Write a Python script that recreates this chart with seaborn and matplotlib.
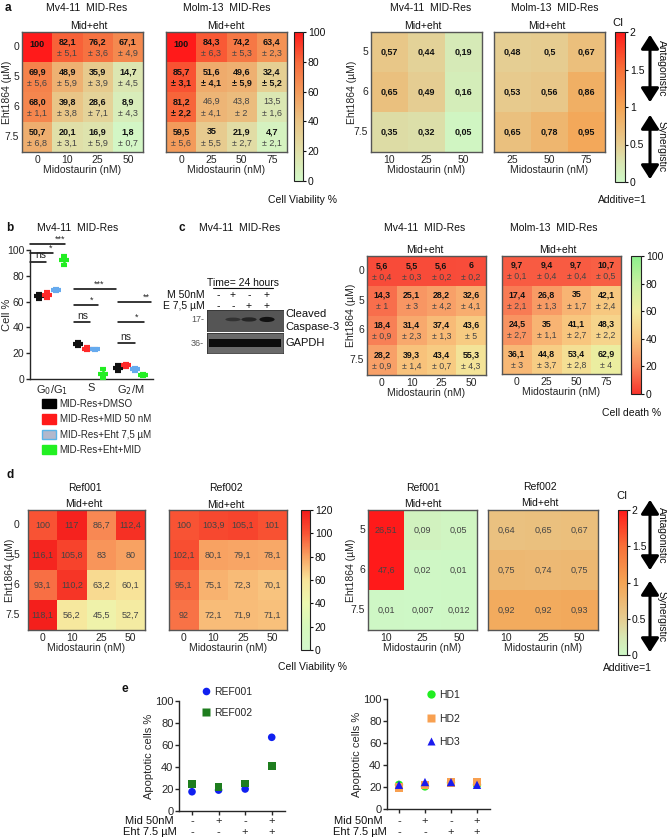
import numpy as np
import pandas as pd
import matplotlib
matplotlib.use("Agg")
import matplotlib.pyplot as plt
import matplotlib.transforms as mtrans
import seaborn as sns
from matplotlib.colors import LinearSegmentedColormap
from matplotlib.patches import Patch, Rectangle, Ellipse, FancyArrowPatch
from matplotlib.lines import Line2D

# ------------------------------------------------------------------ data
eht_rows = ['0', '5', '6', '7.5']
eht_rows_ci = ['5', '6', '7.5']
mid_mv4 = ['0', '10', '25', '50']
mid_molm = ['0', '25', '50', '75']
mid_ci_mv4 = ['10', '25', '50']
mid_ci_molm = ['25', '50', '75']

# panel a : cell viability %
via_mv4 = [["100", "82,1", "76,2", "67,1"],
           ["69,9", "48,9", "35,9", "14,7"],
           ["68,0", "39,8", "28,6", "8,9"],
           ["50,7", "20,1", "16,9", "1,8"]]
via_mv4_sd = [[None, "5,1", "3,6", "4,9"],
              ["5,6", "5,9", "3,9", "4,5"],
              ["1,1", "3,8", "7,1", "4,3"],
              ["6,8", "3,1", "5,9", "0,7"]]
via_molm = [["100", "84,3", "74,2", "63,4"],
            ["85,7", "51,6", "49,6", "32,4"],
            ["81,2", "46,9", "43,8", "13,5"],
            ["59,5", "35", "21,9", "4,7"]]
via_molm_sd = [[None, "6,3", "5,3", "2,3"],
               ["3,1", "4,1", "5,9", "5,2"],
               ["2,2", "4,1", "2", "1,6"],
               ["5,6", "5,5", "2,7", "2,1"]]
# panel a : combination index
ci_mv4 = [["0,57", "0,44", "0,19"],
          ["0,65", "0,49", "0,16"],
          ["0,35", "0,32", "0,05"]]
ci_molm = [["0,48", "0,5", "0,67"],
           ["0,53", "0,56", "0,86"],
           ["0,65", "0,78", "0,95"]]

# panel b : cell cycle
phases = ['G$_0$/G$_1$', 'S', 'G$_2$/M']
treatments = ['MID-Res+DMSO', 'MID-Res+MID 50 nM', 'MID-Res+Eht 7,5 µM', 'MID-Res+Eht+MID']
cc_mean = {'MID-Res+DMSO': [64, 27, 8.5],
           'MID-Res+MID 50 nM': [65, 23.5, 10.5],
           'MID-Res+Eht 7,5 µM': [69, 23, 7.5],
           'MID-Res+Eht+MID': [92, 4, 3]}
cc_err = {'MID-Res+DMSO': [2, 1.5, 2.5],
          'MID-Res+MID 50 nM': [2.5, 1, 1.5],
          'MID-Res+Eht 7,5 µM': [1, 0.5, 1],
          'MID-Res+Eht+MID': [3.5, 3.5, 0.5]}
sig_labels = [['ns', '*', '***'], ['ns', '*', '***'], ['ns', '*', '**']]

# panel c : cell death %
death_mv4 = [["5,6", "5,5", "5,6", "6"],
             ["14,3", "25,1", "28,2", "32,6"],
             ["18,4", "31,4", "37,4", "43,6"],
             ["28,2", "39,3", "43,4", "55,3"]]
death_mv4_sd = [["0,4", "0,3", "0,2", "0,2"],
                ["1", "3", "4,2", "4,1"],
                ["0,9", "2,3", "1,3", "5"],
                ["0,9", "1,4", "0,7", "4,3"]]
death_molm = [["9,7", "9,4", "9,7", "10,7"],
              ["17,4", "26,8", "35", "42,1"],
              ["24,5", "35", "41,1", "48,3"],
              ["36,1", "44,8", "53,4", "62,9"]]
death_molm_sd = [["0,1", "0,4", "0,4", "0,5"],
                 ["2,1", "1,3", "1,7", "2,4"],
                 ["2,7", "1,1", "2,7", "2,2"],
                 ["3", "3,7", "2,8", "4"]]
blot_M = ['-', '+', '-', '+']
blot_E = ['-', '-', '+', '+']

# panel d
ref001_via = [["100", "117", "86,7", "112,4"],
              ["116,1", "105,8", "83", "80"],
              ["93,1", "110,2", "63,2", "60,1"],
              ["118,1", "56,2", "45,5", "52,7"]]
ref002_via = [["100", "103,9", "105,1", "101"],
              ["102,1", "80,1", "79,1", "78,1"],
              ["95,1", "75,1", "72,3", "70,1"],
              ["92", "72,1", "71,9", "71,1"]]
ref001_ci = [["26,51", "0,09", "0,05"],
             ["47,6", "0,02", "0,01"],
             ["0,01", "0,007", "0,012"]]
ref002_ci = [["0,64", "0,65", "0,67"],
             ["0,75", "0,74", "0,75"],
             ["0,92", "0,92", "0,93"]]

# panel e
e_conditions = ['c1', 'c2', 'c3', 'c4']
e_mid = ['-', '+', '-', '+']
e_eht = ['-', '-', '+', '+']
ref001_apop = [17.5, 19, 20, 67]
ref002_apop = [24.5, 22, 25, 41]
hd1_apop = [22, 20.5, 24, 22]
hd2_apop = [19.5, 22, 24, 24.5]
hd3_apop = [22, 24.5, 24.5, 22]

# ------------------------------------------------------------------ style
sns.set_theme(style='white')
plt.rcParams['font.family'] = ['Liberation Sans', 'DejaVu Sans']
plt.rcParams['axes.linewidth'] = 1.0

W, H = 667, 840
fig = plt.figure(figsize=(W / 100, H / 100), dpi=100)
fig.patch.set_facecolor('white')


def box(x0, y0, x1, y1):
    return fig.add_axes([x0 / W, 1 - y1 / H, (x1 - x0) / W, (y1 - y0) / H])


def ftext(x, y, s, **kw):
    kw.setdefault('ha', 'center')
    kw.setdefault('va', 'center')
    kw.setdefault('fontsize', 7.5)
    kw.setdefault('color', '#111111')
    return fig.text(x / W, 1 - y / H, s, **kw)


def ylabel_at(ax, x_px):
    tr = mtrans.blended_transform_factory(fig.transFigure, ax.transAxes)
    ax.yaxis.set_label_coords(x_px / W, 0.5, transform=tr)


def num(s):
    return float(s.replace(',', '.'))


cmap_via = LinearSegmentedColormap.from_list('via', [
    (0.0, '#d2f8c8'), (0.2, '#e0dfa8'), (0.4, '#e9c486'),
    (0.6, '#f39a5a'), (0.8, '#f76a3c'), (1.0, '#ff1a1a')])
cmap_ci = LinearSegmentedColormap.from_list('ci', [
    (0.0, '#cef8c6'), (0.125, '#d8e6b2'), (0.25, '#e6cc90'),
    (0.5, '#f4a454'), (0.75, '#f87038'), (1.0, '#ff1a1a')])
cmap_death = LinearSegmentedColormap.from_list('death', [
    (0.0, '#f8342c'), (0.2, '#f8865a'), (0.4, '#f8c47c'),
    (0.6, '#f2eca0'), (0.8, '#c8f0a0'), (1.0, '#8cf08c')])
cmap_d = LinearSegmentedColormap.from_list('dvia', [
    (0.0, '#d2f8cc'), (20 / 120, '#d6f8bc'), (40 / 120, '#ecf8b0'),
    (60 / 120, '#f8e49a'), (80 / 120, '#f8a262'), (100 / 120, '#f85434'),
    (1.0, '#f41a1a')])


def heat(ax, labels, sds, cols, rows, cmap, vmin, vmax, ylab_x=None,
         vfs=6.5, vweight='bold', vbold=None, sdbold=None, ypad=2):
    arr = np.array([[num(v) for v in r] for r in labels])
    df = pd.DataFrame(arr, index=rows, columns=cols)
    sns.heatmap(df, ax=ax, cmap=cmap, vmin=vmin, vmax=vmax, cbar=False,
                linewidths=0, xticklabels=cols,
                yticklabels=rows if ylab_x is not None else False)
    for i, r in enumerate(labels):
        for j, v in enumerate(r):
            sd = sds[i][j] if sds is not None else None
            wv = vweight
            if vbold is not None:
                wv = 'bold' if vbold[i][j] else 'normal'
            cv = '#111111' if wv == 'bold' else '#444444'
            if sd is None:
                yy = i + 0.42 if sds is not None else i + 0.5
                ax.text(j + 0.5, yy, v, ha='center', va='center', fontsize=vfs,
                        fontweight=wv, color=cv)
            else:
                ws = 'bold' if (sdbold is not None and sdbold[i][j]) else 'normal'
                cs = '#111111' if ws == 'bold' else '#444444'
                ax.text(j + 0.5, i + 0.32, v, ha='center', va='center', fontsize=vfs,
                        fontweight=wv, color=cv)
                ax.text(j + 0.5, i + 0.70, '± ' + sd, ha='center', va='center',
                        fontsize=vfs, fontweight=ws, color=cs)
    for sp in ax.spines.values():
        sp.set_visible(True)
        sp.set_color('#555555')
        sp.set_linewidth(1.0)
    ax.tick_params(axis='x', length=0, labelsize=7.5, pad=2, rotation=0)
    ax.tick_params(axis='y', length=0, labelsize=7.5, pad=ypad, rotation=0)
    ax.set_xlabel('Midostaurin (nM)', fontsize=7.5, labelpad=0)
    if ylab_x is not None:
        ax.set_ylabel('Eht1864 (µM)', fontsize=7.5)
        ylabel_at(ax, ylab_x)
    else:
        ax.set_ylabel('')


def cbar(ax, cax, ticks, ticklabels=None):
    cb = fig.colorbar(ax.collections[0], cax=cax)
    cb.set_ticks(ticks)
    if ticklabels is not None:
        cb.set_ticklabels(ticklabels)
    cb.outline.set_edgecolor('#222222')
    cb.outline.set_linewidth(0.8)
    cax.tick_params(labelsize=7.5, length=2.5, pad=1, width=0.8, colors='#111111')
    return cb


def arrows(x, y0, ymid1, ymid2, y1):
    for a, b in [(y0, ymid1), (ymid2, y1)]:
        fig.add_artist(FancyArrowPatch((x / W, 1 - a / H), (x / W, 1 - b / H),
                                       transform=fig.transFigure,
                                       arrowstyle='<|-|>,head_width=0.45,head_length=0.7',
                                       mutation_scale=12, lw=2.2, color='black'))
    ftext(x + 11.5, (y0 + ymid1) / 2, 'Antagonistic', rotation=-90, fontsize=7.5)
    ftext(x + 11.5, (ymid2 + y1) / 2, 'Synergistic', rotation=-90, fontsize=7.5)


# ------------------------------------------------------------------ panel a
ftext(8, 8, 'a', fontweight='bold', fontsize=8.5)
ax = box(22, 32, 143, 152)
heat(ax, via_mv4, via_mv4_sd, mid_mv4, eht_rows, cmap_via, 0, 100, ylab_x=12)
ftext(87, 8, 'Mv4-11  MID-Res')
ftext(89, 26, 'Mid+eht')
ax2 = box(166, 32, 287, 152)
heat(ax2, via_molm, via_molm_sd, mid_molm, eht_rows, cmap_via, 0, 100,
     vbold=[[1, 1, 1, 1], [1, 1, 1, 1], [1, 0, 0, 0], [1, 1, 1, 1]],
     sdbold=[[0, 0, 0, 0], [1, 1, 1, 1], [1, 0, 0, 0], [0, 0, 0, 0]])
ftext(227, 8, 'Molm-13  MID-Res')
ftext(226, 26, 'Mid+eht')
cbar(ax2, box(294, 32, 303, 181), [0, 20, 40, 60, 80, 100])
ftext(302, 200, 'Cell Viability %')

ax = box(371, 32, 482, 152)
heat(ax, ci_mv4, None, mid_ci_mv4, eht_rows_ci, cmap_ci, 0, 2, ylab_x=357, vfs=6.5)
ftext(431, 8, 'Mv4-11  MID-Res')
ftext(423, 26, 'Mid+eht')
ax2 = box(494, 32, 605, 152)
heat(ax2, ci_molm, None, mid_ci_molm, eht_rows_ci, cmap_ci, 0, 2, vfs=6.5)
ftext(555, 8, 'Molm-13  MID-Res')
ftext(547, 26, 'Mid+eht')
cbar(ax2, box(615, 32, 625, 182), [0, 0.5, 1, 1.5, 2], ['0', '0.5', '1', '1.5', '2'])
ftext(618, 23, 'CI', fontsize=8)
ftext(622, 200, 'Additive=1')
arrows(650, 32, 105, 112, 182)

# ------------------------------------------------------------------ panel b
ftext(10, 228, 'b', fontweight='bold', fontsize=8.5)
ftext(78, 228, 'Mv4-11  MID-Res')
axb = box(30, 250, 153, 379)
b_colors = ['#111111', '#ff2a2a', '#66aaee', '#22ee22']
offsets = [-0.33, -0.12, 0.1, 0.3]
xpos = np.arange(len(phases))
for k, t in enumerate(treatments):
    axb.errorbar(xpos + offsets[k], cc_mean[t], yerr=cc_err[t], fmt='_', color=b_colors[k],
                 ecolor=b_colors[k], elinewidth=1.8, capsize=2.5, capthick=1.5,
                 markersize=7, markeredgewidth=3, clip_on=False, zorder=3)
axb.set_xlim(-0.56, 2.56)
axb.set_ylim(0, 100)
axb.set_xticks(xpos)
axb.set_xticklabels(phases, fontsize=8)
axb.set_yticks([0, 20, 40, 60, 80, 100])
axb.tick_params(axis='y', labelsize=7.5, length=3, width=1, pad=1, left=True)
axb.tick_params(axis='x', length=0, pad=3)
axb.set_ylabel('Cell %', fontsize=8)
ylabel_at(axb, 12)
sns.despine(ax=axb)
sig_lines = [[(-0.56, -0.15, 91), (-0.56, 0.03, 98), (-0.56, 0.33, 104.5)],
             [(0.56, 0.97, 44), (0.56, 1.16, 57.5), (0.56, 1.62, 69.5)],
             [(1.67, 2.1, 28), (1.67, 2.33, 44), (1.67, 2.51, 59.5)]]
sig_text_x = [[-0.28, -0.03, 0.2], [0.79, 1.0, 1.2], [1.87, 2.15, 2.38]]
for g in range(3):
    for s in range(3):
        x0, x1, yv = sig_lines[g][s]
        axb.plot([x0, x1], [yv, yv], color='black', lw=1.1, clip_on=False)
        lab = sig_labels[g][s]
        axb.text(sig_text_x[g][s], yv + (1.0 if lab == 'ns' else 0.2), lab,
                 ha='center', va='bottom', fontsize=7.5 if lab == 'ns' else 6.5,
                 clip_on=False)
leg_handles = [Patch(facecolor='#000000', edgecolor='#000000'),
               Patch(facecolor='#ff1a1a', edgecolor='#ff1a1a'),
               Patch(facecolor='#b2b8cc', edgecolor='#5ab4e8'),
               Patch(facecolor='#22f022', edgecolor='#22f022')]
fig.legend(leg_handles, treatments, loc='upper left', bbox_to_anchor=(42 / W, 1 - 399 / H),
           frameon=False, fontsize=7, handlelength=1.45, handleheight=1.1,
           handletextpad=0.35, labelspacing=0.55, borderpad=0, borderaxespad=0)

# ------------------------------------------------------------------ panel c
ftext(182, 228, 'c', fontweight='bold', fontsize=8.5)
ftext(240, 228, 'Mv4-11  MID-Res')
ftext(243, 283, 'Time= 24 hours', fontsize=7.5)
fig.add_artist(Line2D([213 / W, 273 / W], [1 - 288 / H, 1 - 288 / H], color='#111111', lw=0.8))
ftext(205, 295, 'M 50nM', ha='right', fontsize=7.5)
ftext(205, 306, 'E 7,5 µM', ha='right', fontsize=7.5)
lane_x = [218, 233, 249, 267]
for k in range(4):
    ftext(lane_x[k], 295, blot_M[k], fontsize=7.5)
    ftext(lane_x[k], 306, blot_E[k], fontsize=7.5)
axw1 = box(207, 310, 283, 331)
axw1.set_facecolor('#555555')
band_int = [0.0, 0.4, 0.6, 0.9]
for k in range(4):
    cx = (lane_x[k] - 207) / 76
    if band_int[k] > 0:
        axw1.add_patch(Ellipse((cx, 0.55), 0.2, 0.12 + 0.14 * band_int[k],
                               transform=axw1.transAxes,
                               color=str(0.3 - 0.26 * band_int[k]), lw=0))
axw2 = box(207, 333, 283, 353)
axw2.set_facecolor('#6a6a6a')
axw2.add_patch(Rectangle((0.03, 0.3), 0.94, 0.42, transform=axw2.transAxes,
                         color='#0c0c0c', lw=0))
for a in (axw1, axw2):
    a.set_xticks([])
    a.set_yticks([])
    for sp in a.spines.values():
        sp.set_color('#333333')
        sp.set_linewidth(0.6)
ftext(204, 320, '17-', ha='right', fontsize=6.5, color='#555555')
ftext(204, 343, '36-', ha='right', fontsize=6.5, color='#555555')
ftext(285, 314, 'Cleaved', ha='left', fontsize=8)
ftext(285, 327, 'Caspase-3', ha='left', fontsize=8)
ftext(285, 343, 'GAPDH', ha='left', fontsize=8)

ax = box(367, 256, 486, 375)
heat(ax, death_mv4, death_mv4_sd, mid_mv4, eht_rows, cmap_death, 0, 100, ylab_x=356, vfs=6.3)
ftext(425, 228, 'Mv4-11  MID-Res')
ftext(425, 250, 'Mid+eht')
ax2 = box(502, 256, 621, 374)
heat(ax2, death_molm, death_molm_sd, mid_molm, eht_rows, cmap_death, 0, 100, vfs=6.3)
ftext(554, 228, 'Molm-13  MID-Res')
ftext(558, 250, 'Mid+eht')
cbar(ax2, box(631, 256, 641, 394), [0, 20, 40, 60, 80, 100])
ftext(632, 413, 'Cell death %')

# ------------------------------------------------------------------ panel d
ftext(10, 475, 'd', fontweight='bold', fontsize=8.5)
ax = box(28, 510, 145, 630)
heat(ax, ref001_via, None, mid_mv4, eht_rows, cmap_d, 0, 120, ylab_x=15, vfs=6.5,
     vweight='normal', ypad=6)
ftext(85, 488, 'Ref001')
ftext(84, 504, 'Mid+eht')
ax2 = box(169, 510, 287, 630)
heat(ax2, ref002_via, None, mid_mv4, eht_rows, cmap_d, 0, 120, vfs=6.5, vweight='normal')
ftext(226, 488, 'Ref002')
ftext(226, 505, 'Mid+eht')
cbar(ax2, box(301, 510, 310, 650), [0, 20, 40, 60, 80, 100, 120])
ftext(312, 667, 'Cell Viability %')

ax = box(368, 510, 477, 630)
heat(ax, ref001_ci, None, mid_ci_mv4, eht_rows_ci, cmap_ci, 0, 2, ylab_x=356, vfs=6.5,
     vweight='normal')
ftext(423, 488, 'Ref001')
ftext(423, 504, 'Mid+eht')
ax2 = box(488, 510, 598, 630)
heat(ax2, ref002_ci, None, mid_ci_mv4, eht_rows_ci, cmap_ci, 0, 2, vfs=6.5, vweight='normal')
ftext(540, 487, 'Ref002')
ftext(540, 503, 'Mid+eht')
cbar(ax2, box(618, 510, 627, 655), [0, 0.5, 1, 1.5, 2], ['0', '0.5', '1', '1.5', '2'])
ftext(622, 496, 'CI', fontsize=8)
ftext(627, 668, 'Additive=1')
arrows(650, 497, 573, 578, 655)

# ------------------------------------------------------------------ panel e
ftext(125, 689, 'e', fontweight='bold', fontsize=8.5)


def apop_axes(ax, series, names, colors, markers, sizes, leg_anchor, lspace,
              row_label_x):
    rows = []
    for nm, vals in zip(names, series):
        for k, v in enumerate(vals):
            rows.append({'pos': k, 'value': v, 'group': nm})
    df = pd.DataFrame(rows)
    sns.scatterplot(data=df, x='pos', y='value', hue='group', style='group',
                    hue_order=names, style_order=names,
                    palette=dict(zip(names, colors)), markers=dict(zip(names, markers)),
                    s=sizes, edgecolor='none', ax=ax, clip_on=False, zorder=3)
    ax.set_ylim(0, 100)
    ax.set_yticks([0, 20, 40, 60, 80, 100])
    ax.set_xticks(range(len(e_conditions)))
    ax.set_xticklabels([''] * len(e_conditions))
    ax.tick_params(axis='y', labelsize=8, length=3, width=1, pad=1, left=True)
    ax.tick_params(axis='x', length=3, width=1, bottom=True)
    ax.set_xlabel('')
    ax.set_ylabel('Apoptotic cells %', fontsize=8, labelpad=1)
    sns.despine(ax=ax)
    h, l = ax.get_legend_handles_labels()
    ax.legend(h, l, loc='upper left', bbox_to_anchor=(leg_anchor[0] / W, 1 - leg_anchor[1] / H),
              bbox_transform=fig.transFigure, frameon=False, fontsize=7.5,
              handlelength=1.0, handletextpad=0.3, labelspacing=lspace,
              borderpad=0, borderaxespad=0, markerscale=1.0)
    tr = mtrans.blended_transform_factory(ax.transData, fig.transFigure)
    for k in range(len(e_conditions)):
        ax.text(k, 1 - 821 / H, e_mid[k], transform=tr, ha='center', va='center', fontsize=8)
        ax.text(k, 1 - 832 / H, e_eht[k], transform=tr, ha='center', va='center', fontsize=8)
    ftext(row_label_x[0], 821, 'Mid 50nM', ha='right', fontsize=8)
    ftext(row_label_x[1], 832, 'Eht 7.5 µM', ha='right', fontsize=8)


axe1 = box(179, 701, 285, 811)
apop_axes(axe1, [ref001_apop, ref002_apop], ['REF001', 'REF002'],
          ['#1020f0', '#1e7d1e'], ['o', 's'], 30, (201, 687), 1.05, (174, 177))
axe1.set_xlim(-0.49, 3.5)
axe2 = box(387, 699, 490, 809)
apop_axes(axe2, [hd1_apop, hd2_apop, hd3_apop], ['HD1', 'HD2', 'HD3'],
          ['#22ee22', '#f8a050', '#1a1aee'], ['o', 's', '^'], 36, (426, 690), 1.3, (383, 387))
axe2.set_xlim(-0.46, 3.5)

fig.savefig('out.png', dpi=100, facecolor='white')
